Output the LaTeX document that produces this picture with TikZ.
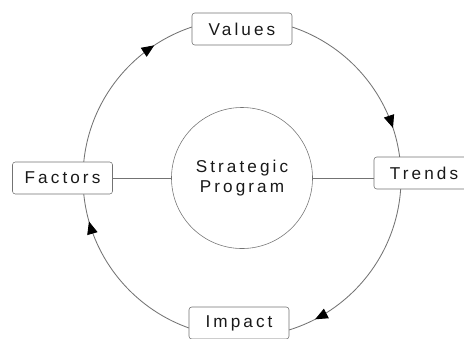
\documentclass[tikz,border=0pt]{standalone}
\usepackage{fontspec}
\newfontfamily\boxfont{Liberation Sans}[LetterSpace=18]
\usetikzlibrary{positioning, arrows.meta, decorations.markings}

\begin{document}
\begin{tikzpicture}[
                x=0.025cm, y=0.025cm,
                box/.style={draw=black!55, fill=white, rounded corners=2pt, minimum width=2.5cm, minimum height=0.8cm, inner sep=0pt, text=black!90, font=\boxfont\fontsize{12.2}{14.6}\selectfont},
                hub/.style={circle, draw=black!55, fill=white, minimum size=3.525cm, inner sep=0pt, align=center, text=black!90, font=\boxfont\fontsize{12.2}{14.2}\selectfont},
                link/.style={draw=black!55, line width=0.6pt},
                ring/.style={link, postaction={decorate}, decoration={markings,
                    mark=at position 0.051 with {\arrowreversed[black]{Triangle[length=9pt, width=7.5pt]}},
                    mark=at position 0.343 with {\arrowreversed[black]{Triangle[length=9pt, width=7.5pt]}},
                    mark=at position 0.544 with {\arrowreversed[black]{Triangle[length=9pt, width=7.5pt]}},
                    mark=at position 0.826 with {\arrowreversed[black]{Triangle[length=9pt, width=7.5pt]}}}}
            ]
                \useasboundingbox (0,0) rectangle (464,-338);

                % centre of the cycle
                \node[hub] (prog) at (242,-178) {Strategic\\Program};

                % the cycle itself, clockwise
                \draw[ring] (prog.center) circle[radius=3.975cm];

                % the four stations
                \node[box] (values)  at (242,-29)   {Values};
                \node[box] (trends)  at (424,-173)  {Trends};
                \node[box] (impact)  at (239,-323)  {Impact};
                \node[box] (factors) at (62.5,-178) {Factors};

                % spokes
                \draw[link] (factors.east |- prog) -- (prog.west);
                \draw[link] (prog.east) -- (trends.west |- prog);

            \end{tikzpicture}
\end{document}
